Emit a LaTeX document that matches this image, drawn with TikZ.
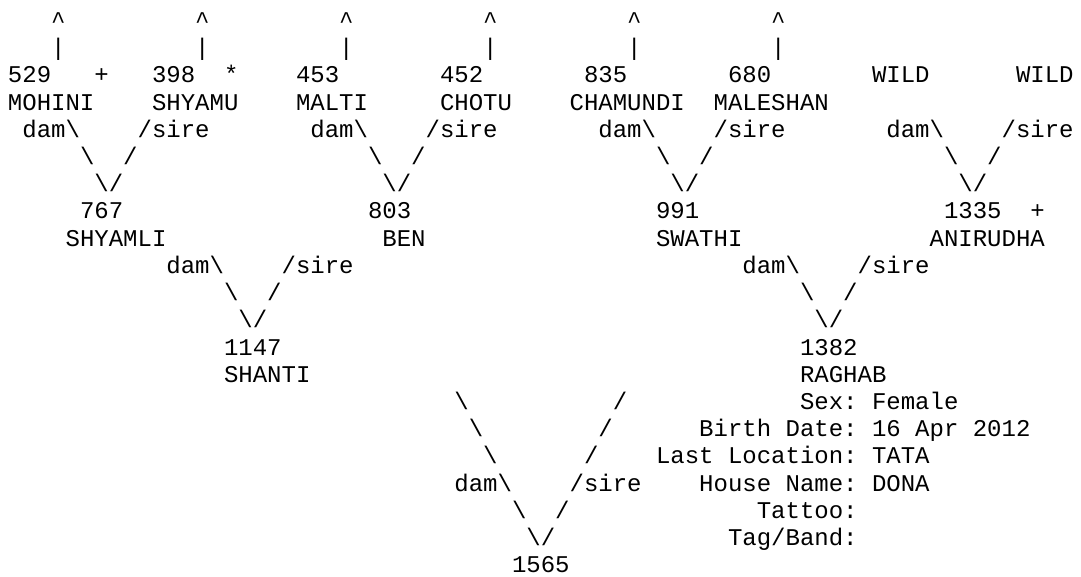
\documentclass[tikz,border=0pt]{standalone}
\usepackage{fontspec}
\newfontfamily\pedfont{Liberation Mono}
\tikzset{
  cell/.style={anchor=base west, inner sep=0pt, outer sep=0pt,
    font=\pedfont\frenchspacing\fontsize{24pt}{27.2pt}\selectfont}
}

\begin{document}
\begin{tikzpicture}[x=14.4pt, y=-27.2pt]
\useasboundingbox (-8pt,1.4pt) rectangle (1073pt,-575.6pt);

% Стрелки вверх
\foreach \c [count=\i] in {3,13,23,33,43,53} {
  \node[cell] (up\i) at (\c,1) {\textasciicircum};
  \node[cell] (bar\i) at (\c,2) {\textbar};
}

% Прародители
\node[cell] (n529) at (0,3) {529};
\node[cell] (p529) at (6,3) {+};
\node[cell] (n398) at (10,3) {398};
\node[cell] (s398) at (15,3) {*};
\node[cell] (n453) at (20,3) {453};
\node[cell] (n452) at (30,3) {452};
\node[cell] (n835) at (40,3) {835};
\node[cell] (n680) at (50,3) {680};
\node[cell] (wild1) at (60,3) {WILD};
\node[cell] (wild2) at (70,3) {WILD};

\node[cell] (mohini) at (0,4) {MOHINI};
\node[cell] (shyamu) at (10,4) {SHYAMU};
\node[cell] (malti) at (20,4) {MALTI};
\node[cell] (chotu) at (30,4) {CHOTU};
\node[cell] (chamundi) at (39,4) {CHAMUNDI};
\node[cell] (maleshan) at (49,4) {MALESHAN};

% Пары dam/sire
\foreach \c/\r [count=\i] in {0/5, 20/5, 40/5, 60/5, 10/10, 50/10, 30/18} {
  \node[cell] (dam\i) at (\c+1,\r) {dam\textbackslash};
  \node[cell] (sire\i) at (\c+9,\r) {/sire};
  \node[cell] (ld\i) at (\c+5,\r+1) {\textbackslash};
  \node[cell] (rd\i) at (\c+8,\r+1) {/};
  \node[cell] (vee\i) at (\c+6,\r+2) {\textbackslash/};
}

% Родители
\node[cell] (n767) at (5,8) {767};
\node[cell] (n803) at (25,8) {803};
\node[cell] (n991) at (45,8) {991};
\node[cell] (n1335) at (65,8) {1335};
\node[cell] (p1335) at (71,8) {+};

\node[cell] (shyamli) at (4,9) {SHYAMLI};
\node[cell] (ben) at (26,9) {BEN};
\node[cell] (swathi) at (45,9) {SWATHI};
\node[cell] (anirudha) at (64,9) {ANIRUDHA};

% Мать и отец
\node[cell] (n1147) at (15,13) {1147};
\node[cell] (shanti) at (15,14) {SHANTI};
\node[cell] (n1382) at (55,13) {1382};
\node[cell] (raghab) at (55,14) {RAGHAB};

% Длинные ветви
\foreach \k in {0,1,2} {
  \node[cell] (lb\k) at (31+\k,15+\k) {\textbackslash};
  \node[cell] (rb\k) at (42-\k,15+\k) {/};
}

\node[cell] (n1565) at (35,21) {1565};

% Сведения
\node[cell] (sex) at (55,15) {Sex: Female};
\node[cell] (birth) at (48,16) {Birth Date: 16 Apr 2012};
\node[cell] (loc) at (45,17) {Last Location: TATA};
\node[cell] (house) at (48,18) {House Name: DONA};
\node[cell] (tattoo) at (52,19) {Tattoo:};
\node[cell] (tag) at (50,20) {Tag/Band:};
\end{tikzpicture}
\end{document}
